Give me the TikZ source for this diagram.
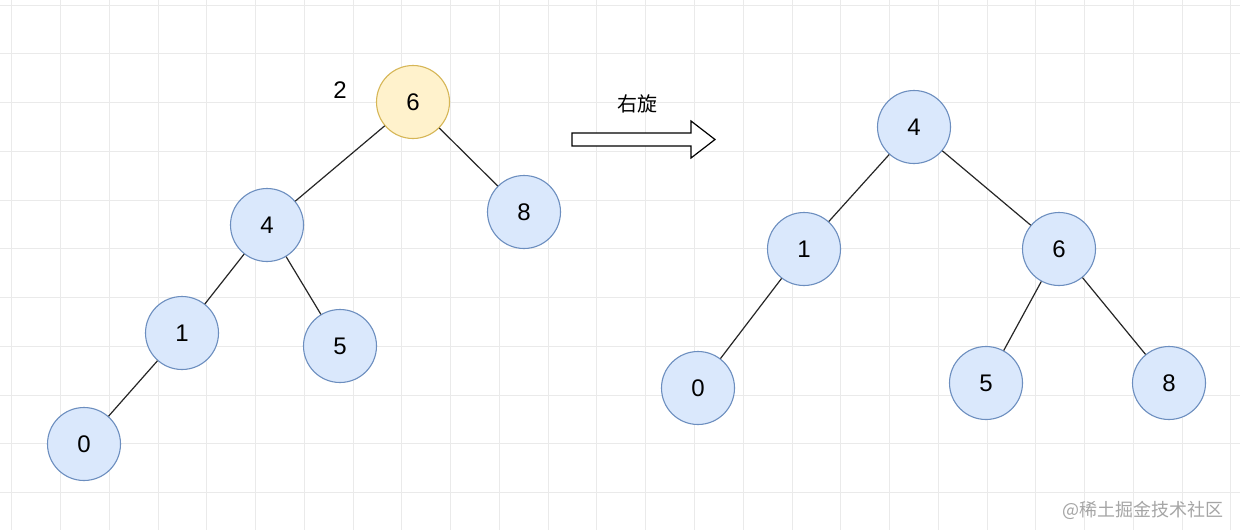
\documentclass[tikz,border=0pt]{standalone}
\usepackage{fontspec}
\setmainfont{Liberation Sans}
\newfontfamily\cjk{Noto Sans CJK SC}
\usepackage{xcolor}
\definecolor{gridcolor}{RGB}{234,234,234}
\definecolor{bluefill}{RGB}{218,232,252}
\definecolor{blueborder}{RGB}{108,142,191}
\definecolor{yellowfill}{RGB}{255,242,204}
\definecolor{yellowborder}{RGB}{214,182,86}
\definecolor{markgray}{RGB}{165,165,165}
\tikzset{
    treenode/.style={circle, draw=blueborder, fill=bluefill, line width=0.55pt,
        minimum size=36.5pt, inner sep=0pt, font=\fontsize{12}{14}\selectfont},
    hotnode/.style={treenode, draw=yellowborder, fill=yellowfill},
    edge/.style={line width=0.6pt, draw=black!85},
    gridline/.style={line width=0.5pt, draw=gridcolor}
}

\begin{document}
\begin{tikzpicture}[x=0.5pt, y=-0.5pt]
    \useasboundingbox (0,0) rectangle (1240,530);
    \fill[white] (0,0) rectangle (1240,530);
    % background grid
    \foreach \gx in {0,...,25}
        \draw[gridline] ({11.7+48.77*\gx},0) -- ({11.7+48.77*\gx},530);
    \foreach \gy in {0,...,10}
        \draw[gridline] (0,{5+48.77*\gy}) -- (1240,{5+48.77*\gy});

    % tree before rotation
    \node[hotnode] (l6) at (413,102) {6};
    \node[treenode] (l4) at (267,225) {4};
    \node[treenode] (l8) at (524,212) {8};
    \node[treenode] (l1) at (182,333) {1};
    \node[treenode] (l5) at (340,346) {5};
    \node[treenode] (l0) at (84,444) {0};
    \node[font=\fontsize{12}{14}\selectfont] (bal) at (340,90) {2};

    \draw[edge] (l6) -- (l4);
    \draw[edge] (l6) -- (l8);
    \draw[edge] (l4) -- (l1);
    \draw[edge] (l4) -- (l5);
    \draw[edge] (l1) -- (l0);

    % right rotation arrow
    \draw[line width=0.6pt, fill=white] (572,133) -- (691,133) -- (691,121) -- (715,139.5)
        -- (691,158) -- (691,146) -- (572,146) -- cycle;
    \node[font=\cjk\fontsize{10}{12}\selectfont] (rot) at (637,104) {右旋};

    % tree after rotation
    \node[treenode] (r4) at (914,127) {4};
    \node[treenode] (r1) at (804,249) {1};
    \node[treenode] (r6) at (1059,249) {6};
    \node[treenode] (r0) at (698,388) {0};
    \node[treenode] (r5) at (986,383) {5};
    \node[treenode] (r8) at (1169,383) {8};

    \draw[edge] (r4) -- (r1);
    \draw[edge] (r4) -- (r6);
    \draw[edge] (r1) -- (r0);
    \draw[edge] (r6) -- (r5);
    \draw[edge] (r6) -- (r8);

    \node[text=markgray, font=\cjk\fontsize{9}{11}\selectfont] (mark) at (1143,510) {@稀土掘金技术社区};
\end{tikzpicture}
\end{document}
